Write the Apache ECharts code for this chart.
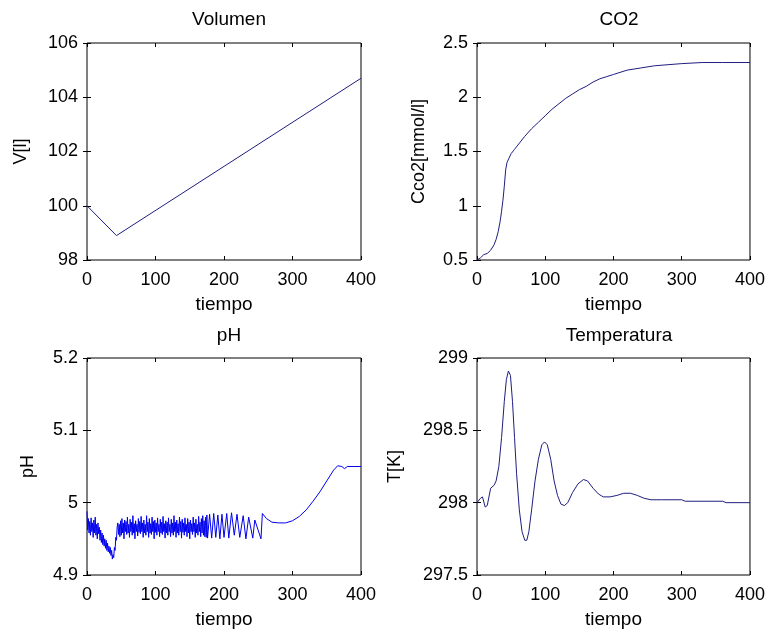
<!DOCTYPE html>
<html>
<head>
<meta charset="utf-8">
<script src="https://cdn.jsdelivr.net/npm/echarts@6/dist/echarts.min.js"></script>
<style>
html,body{margin:0;padding:0;background:#fff;}
#chart{width:768px;height:637px;}
</style>
</head>
<body>
<div id="chart"></div>
<script>
// ---- Data ----
const titles = ['Volumen', 'CO2', 'pH', 'Temperatura'];
const yNames = ['V[l]', 'Cco2[mmol/l]', 'pH', 'T[K]'];
const xName = 'tiempo';

const volT = [0, 43, 400];
const volV = [100, 98.9, 104.7];

const co2T = [0, 5, 10, 15, 20, 25, 28, 31, 34, 36, 38, 40, 42, 44, 47, 50, 55, 60, 70, 80, 90, 100, 110, 120, 130, 140, 150, 160, 170, 180, 190, 200, 220, 240, 260, 280, 300, 330, 360, 400];
const co2V = [0.5, 0.52, 0.55, 0.56, 0.59, 0.64, 0.69, 0.76, 0.86, 0.95, 1.05, 1.18, 1.33, 1.40, 1.44, 1.48, 1.52, 1.56, 1.64, 1.71, 1.77, 1.83, 1.89, 1.94, 1.99, 2.03, 2.07, 2.10, 2.14, 2.17, 2.19, 2.21, 2.25, 2.27, 2.29, 2.30, 2.31, 2.32, 2.32, 2.32];

const phPoints = [
[0,4.988],[1,4.962],[2,4.978],[3,4.958],[4,4.974],[5,4.955],[6,4.979],[7,4.96],[8,4.972],[9,4.952],
[10,4.976],[11,4.958],[12,4.98],[13,4.955],[14,4.97],[15,4.95],[16,4.972],[17,4.957],[18,4.966],[19,4.948],
[20,4.962],[21,4.945],[22,4.958],[23,4.942],[24,4.955],[25,4.94],[26,4.95],[27,4.937],[28,4.948],[29,4.934],
[30,4.944],[31,4.932],[32,4.94],[33,4.93],[34,4.938],[35,4.927],[36,4.934],[37,4.922],[38,4.928],[39,4.924],
[40,4.938],[41,4.934],[42,4.952],[43,4.948],[44,4.966],[45,4.972],[46,4.956],[47,4.97],[48,4.953],[49,4.975],
[50,4.955],[51,4.978],[52,4.958],[53,4.972],[54,4.95],[55,4.976],[56,4.96],[57,4.974],[58,4.956],[59,4.98],
[60,4.958],[61,4.97],[62,4.952],[63,4.977],[64,4.96],[65,4.973],[66,4.955],[67,4.982],[68,4.958],[69,4.971],
[70,4.95],[71,4.975],[72,4.96],[73,4.97],[74,4.954],[75,4.978],[76,4.959],[77,4.974],[78,4.957],[79,4.981],
[80,4.96],[81,4.972],[82,4.952],[83,4.976],[84,4.958],[85,4.97],[86,4.955],[87,4.982],[88,4.96],[89,4.973],
[90,4.952],[91,4.978],[92,4.958],[93,4.971],[94,4.956],[95,4.98],[96,4.96],[97,4.974],[98,4.95],[99,4.976],
[100,4.959],[101,4.972],[102,4.955],[103,4.979],[104,4.96],[105,4.97],[106,4.953],[107,4.977],[108,4.958],[109,4.973],
[110,4.956],[111,4.981],[112,4.96],[113,4.971],[114,4.951],[115,4.975],[116,4.958],[117,4.973],[118,4.955],[119,4.979],
[120,4.96],[121,4.97],[122,4.953],[123,4.977],[124,4.958],[125,4.972],[126,4.955],[127,4.982],[128,4.96],[129,4.973],
[130,4.952],[131,4.976],[132,4.958],[133,4.971],[134,4.955],[135,4.98],[136,4.96],[137,4.974],[138,4.951],[139,4.977],
[140,4.959],[141,4.972],[142,4.955],[143,4.979],[144,4.96],[145,4.97],[146,4.953],[147,4.978],[148,4.958],[149,4.973],
[150,4.95],[151,4.976],[152,4.96],[153,4.971],[154,4.956],[155,4.98],[156,4.96],[157,4.972],[158,4.952],[159,4.977],
[160,4.958],[161,4.97],[162,4.955],[163,4.981],[164,4.96],[165,4.973],[166,4.953],[167,4.978],[168,4.958],[169,4.982],
[170,4.955],[171,4.975],[172,4.953],[173,4.98],[174,4.952],[175,4.983],[176,4.951],
[179,4.984],[182,4.951],[185,4.985],[188,4.952],[191,4.983],[194,4.95],[197,4.984],[200,4.952],[204,4.985],[207,4.951],
[211,4.986],[215,4.955],[219,4.984],[223,4.952],[228,4.982],[232,4.95],[236,4.98],[242,4.951],[245,4.976],[254,4.95],
[256,4.985],[262,4.978],[270,4.973],[280,4.972],[290,4.972],[300,4.975],[310,4.981],[320,4.99],[330,5.002],[340,5.015],
[350,5.03],[360,5.045],[366,5.051],[372,5.05],[376,5.047],[380,5.05],[390,5.05],[400,5.05]
];

const tempT = [0, 5, 8, 12, 15, 20, 25, 28, 32, 36, 40, 43, 46, 49, 52, 55, 58, 62, 66, 70, 73, 76, 80, 85, 90, 95, 99, 103, 108, 113, 118, 123, 128, 133, 140, 148, 156, 162, 170, 178, 185, 195, 205, 215, 225, 235, 245, 255, 270, 300, 305, 360, 365, 400];
const tempV = [298.0, 298.03, 298.04, 297.97, 297.98, 298.1, 298.12, 298.15, 298.25, 298.45, 298.7, 298.85, 298.91, 298.88, 298.7, 298.45, 298.2, 297.95, 297.8, 297.74, 297.74, 297.8, 297.95, 298.15, 298.3, 298.4, 298.42, 298.4, 298.3, 298.15, 298.05, 297.99, 297.98, 298.0, 298.07, 298.13, 298.16, 298.15, 298.1, 298.06, 298.04, 298.04, 298.05, 298.065, 298.065, 298.05, 298.03, 298.02, 298.02, 298.02, 298.01, 298.01, 298.0, 298.0];

const yRanges = [[98, 106, 2], [0.5, 2.5, 0.5], [4.9, 5.2, 0.1], [297.5, 299, 0.5]];
const xRange = [0, 400, 100];

// ---- Build ----
function zip(a, b) { return a.map((v, i) => [v, b[i]]); }
const seriesData = [zip(volT, volV), zip(co2T, co2V), phPoints, zip(tempT, tempV)];

const FONT = 'Liberation Sans, Arial, sans-serif';
const grids = [
  {left: 87, top: 43, width: 274, height: 217},
  {left: 477, top: 43, width: 274, height: 217},
  {left: 87, top: 358, width: 274, height: 217},
  {left: 477, top: 358, width: 274, height: 217}
];
const yNameGaps = [57, 49, 50, 73];
const titleTops = [5, 5, 321, 321];

const option = {
  backgroundColor: '#fff',
  animation: false,
  title: titles.map((t, i) => ({
    text: t,
    left: grids[i].left + grids[i].width / 2,
    top: titleTops[i],
    textAlign: 'center',
    textStyle: {fontFamily: FONT, fontSize: 19, fontWeight: 'normal', color: '#000'}
  })),
  grid: grids.map(g => Object.assign({show: true, borderColor: '#000', borderWidth: 1, backgroundColor: 'transparent'}, g)),
  xAxis: [],
  yAxis: [],
  series: []
};

const tickStyle = {show: true, inside: true, length: 4, lineStyle: {color: '#000', width: 1}};
for (let i = 0; i < 4; i++) {
  option.xAxis.push({
    type: 'value', gridIndex: i, min: xRange[0], max: xRange[1], interval: xRange[2],
    position: 'bottom',
    name: xName, nameLocation: 'middle', nameGap: 35,
    nameTextStyle: {fontFamily: FONT, fontSize: 19, color: '#000'},
    axisLine: {show: false}, axisTick: tickStyle, splitLine: {show: false},
    axisLabel: {fontFamily: FONT, fontSize: 18, color: '#000', margin: 11}
  });
  option.xAxis.push({
    type: 'value', gridIndex: i, min: xRange[0], max: xRange[1], interval: xRange[2],
    position: 'top',
    axisLine: {show: false}, axisTick: tickStyle, splitLine: {show: false},
    axisLabel: {show: false}
  });
  option.yAxis.push({
    type: 'value', gridIndex: i, min: yRanges[i][0], max: yRanges[i][1], interval: yRanges[i][2],
    position: 'left',
    name: yNames[i], nameLocation: 'middle', nameGap: yNameGaps[i],
    nameTextStyle: {fontFamily: FONT, fontSize: 18, color: '#000'},
    axisLine: {show: false}, axisTick: tickStyle, splitLine: {show: false},
    axisLabel: {fontFamily: FONT, fontSize: 18, color: '#000', margin: 9}
  });
  option.yAxis.push({
    type: 'value', gridIndex: i, min: yRanges[i][0], max: yRanges[i][1], interval: yRanges[i][2],
    position: 'right',
    axisLine: {show: false}, axisTick: tickStyle, splitLine: {show: false},
    axisLabel: {show: false}
  });
  option.series.push({
    type: 'line', xAxisIndex: i * 2, yAxisIndex: i * 2,
    data: seriesData[i], showSymbol: false, symbol: 'none',
    lineStyle: {color: i === 2 ? '#0000ee' : '#1e1e80', width: 1},
    itemStyle: {color: i === 2 ? '#0000ee' : '#1e1e80'}
  });
}

const chart = echarts.init(document.getElementById('chart'), null, {renderer: 'canvas'});
chart.setOption(option);
</script>
</body>
</html>
